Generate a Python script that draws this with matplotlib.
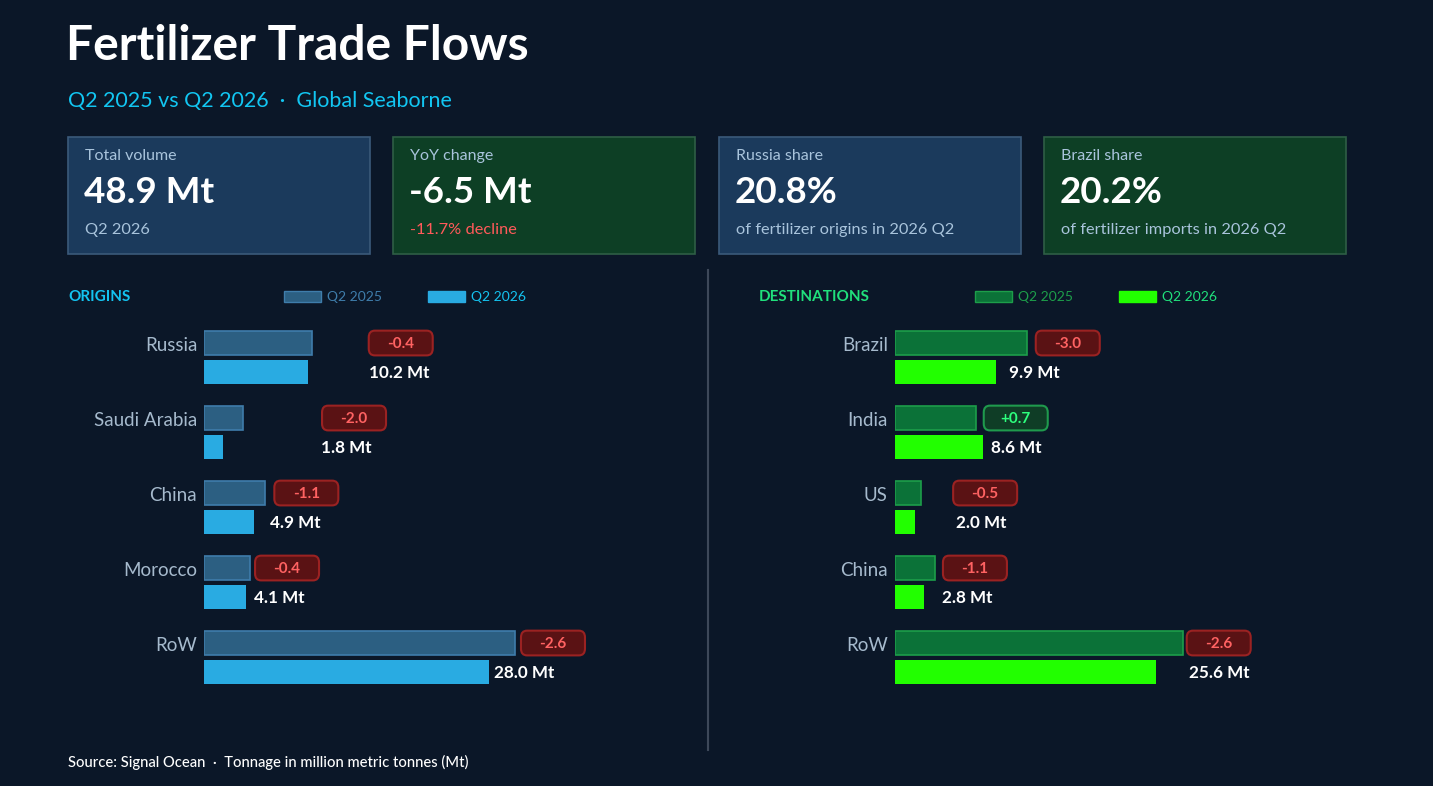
import matplotlib
matplotlib.use("Agg")
import matplotlib.pyplot as plt
from matplotlib.patches import Rectangle, FancyBboxPatch

plt.rcParams['font.family'] = ['Lato', 'DejaVu Sans']

# data
origins = ['Russia', 'Saudi Arabia', 'China', 'Morocco', 'RoW']
origins_2025 = [10.6, 3.8, 6.0, 4.5, 30.6]
origins_2026 = [10.2, 1.8, 4.9, 4.1, 28.0]

dests = ['Brazil', 'India', 'US', 'China', 'RoW']
dests_2025 = [12.9, 7.9, 2.5, 3.9, 28.2]
dests_2026 = [9.9, 8.6, 2.0, 2.8, 25.6]

card_titles = ['Total volume', 'YoY change', 'Russia share', 'Brazil share']
card_values = ['48.9 Mt', '-6.5 Mt', '20.8%', '20.2%']
card_notes = ['Q2 2026', '-11.7% decline', 'of fertilizer origins in 2026 Q2',
              'of fertilizer imports in 2026 Q2']

# where the badge / value labels sit (Mt along the bar axis)
origin_badge_x = [16.2, 11.6, 6.9, 5.0, 31.2]
origin_label_x = [16.25, 11.5, 6.5, 4.85, 28.55]
dest_badge_x = [13.8, 8.7, 5.7, 4.7, 28.6]
dest_label_x = [11.2, 9.4, 5.95, 4.6, 28.8]

BG = '#0b1728'
W, H = 1433, 786

fig = plt.figure(figsize=(W / 100, H / 100), dpi=100, facecolor=BG)


def fx(px):
    return px / W


def fy(py):
    return 1 - py / H


fig.text(fx(66), fy(46), 'Fertilizer Trade Flows', color='white', fontsize=34.5,
         fontweight='bold', va='center', ha='left')
fig.text(fx(68), fy(101), 'Q2 2025 vs Q2 2026  \u00b7  Global Seaborne', color='#12c6f2',
         fontsize=15.5, va='center', ha='left')

# kpi cards
card_fill = ['#1b3a5c', '#0d3f25', '#1b3a5c', '#0d3f25']
card_edge = ['#3b5a7a', '#2e5e45', '#3b5a7a', '#2e5e45']
card_x = [68, 393, 719, 1044]
for i in range(4):
    x0 = card_x[i]
    fig.patches.append(Rectangle((fx(x0), fy(254)), fx(302), 117 / H, transform=fig.transFigure,
                                 facecolor=card_fill[i], edgecolor=card_edge[i], lw=1.2))
    fig.text(fx(x0 + 17), fy(156), card_titles[i], color='#a9c4dc', fontsize=11.5, va='center')
    fig.text(fx(x0 + 16), fy(192.5), card_values[i], color='white', fontsize=26.5,
             fontweight='bold', va='center')
    note_col = '#ff5a5a' if i == 1 else '#a9c4dc'
    fig.text(fx(x0 + 17), fy(230), card_notes[i], color=note_col, fontsize=11.8, va='center')

# divider
fig.lines.append(plt.Line2D([fx(708), fx(708)], [fy(270), fy(750)], transform=fig.transFigure,
                            color='#3d4859', lw=1.5))


def panel(left_px, scale, cats, v25, v26, badge_x, label_x, head, head_x, head_col,
          c25, e25, c26, leg_x):
    fig.text(fx(head_x), fy(297), head, color=head_col, fontsize=11, fontweight='bold', va='center')
    for lx, fc, ec, lab in [(leg_x, c25, e25, 'Q2 2025'), (leg_x + 144, c26, c26, 'Q2 2026')]:
        fig.patches.append(Rectangle((fx(lx), fy(302)), fx(37), 11 / H, transform=fig.transFigure,
                                     facecolor=fc, edgecolor=ec, lw=1))
        fig.text(fx(lx + 43), fy(297), lab, color=head_col if fc != c25 else ec, fontsize=10,
                 va='center')

    width_px = 500
    ax = fig.add_axes([fx(left_px), fy(695), fx(width_px), 375 / H])
    ax.set_xlim(0, width_px / scale)
    ax.set_ylim(len(cats) - 0.5, -0.5)
    ax.axis('off')
    ax.patch.set_alpha(0)

    off = 0.193
    h = 0.32
    y = list(range(len(cats)))
    ax.barh([k - off for k in y], v25, height=h, color=c25, edgecolor=e25, lw=1.2)
    ax.barh([k + off for k in y], v26, height=h, color=c26, edgecolor='none')

    for k in y:
        ax.text(-0.7, k - off + 0.035, cats[k], ha='right', va='center', color='#a6bacd',
                fontsize=13.5)
        ax.text(label_x[k], k + off + 0.01, f'{v26[k]:.1f} Mt', ha='left', va='center',
                color='white', fontsize=12.3, fontweight='bold')
        d = v26[k] - v25[k]
        if d >= 0:
            fc, ec, tc = '#0f3d26', '#1f9a4d', '#2dff7d'
        else:
            fc, ec, tc = '#5a1214', '#9b2222', '#ff6262'
        bw = 64 / scale
        ax.add_patch(FancyBboxPatch((badge_x[k], k - off - 0.165), bw, 0.33,
                                    boxstyle='round,pad=0,rounding_size=0.6',
                                    mutation_aspect=0.15,
                                    facecolor=fc, edgecolor=ec, lw=1.5))
        ax.text(badge_x[k] + bw / 2, k - off + 0.015, f'{d:+.1f}', ha='center', va='center',
                color=tc, fontsize=11, fontweight='bold')


panel(204.3, 10.15, origins, origins_2025, origins_2026, origin_badge_x, origin_label_x,
      'ORIGINS', 68, '#14c3f0', '#2c5f82', '#3f7dab', '#29abe2', 284)
panel(895, 10.2, dests, dests_2025, dests_2026, dest_badge_x, dest_label_x,
      'DESTINATIONS', 759, '#20e07c', '#0b7238', '#1d9e4a', '#22ff00', 975)

fig.text(fx(68), fy(762), 'Source: Signal Ocean  \u00b7  Tonnage in million metric tonnes (Mt)',
         color='white', fontsize=10.6, fontweight='medium', va='center')

fig.savefig('out.png', dpi=100, facecolor=BG)
